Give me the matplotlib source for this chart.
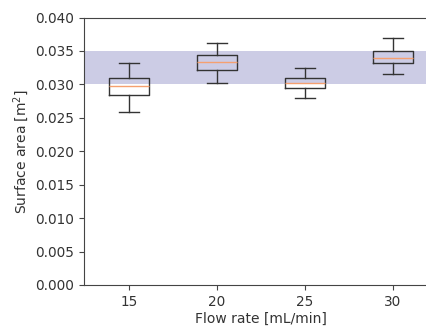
import numpy as np
import matplotlib
matplotlib.use('Agg')
import matplotlib.pyplot as plt

flow_rates = [15, 20, 25, 30]
whisker_low = [0.0259, 0.0302, 0.0280, 0.0316]
box_low = [0.0284, 0.0321, 0.0294, 0.0332]
medians = [0.0298, 0.0333, 0.0302, 0.0340]
box_high = [0.0310, 0.0344, 0.0310, 0.0350]
whisker_high = [0.0332, 0.0362, 0.0325, 0.0370]
band_low, band_high = 0.030, 0.035

stats = []
for i in range(len(flow_rates)):
    stats.append({'whislo': whisker_low[i], 'q1': box_low[i], 'med': medians[i],
                  'q3': box_high[i], 'whishi': whisker_high[i], 'fliers': []})

fig = plt.figure(figsize=(4.26, 3.29), dpi=100)
# axes run past the right edge, the reference is cropped there
ax = fig.add_axes([84 / 426, 1 - 285 / 329, 354 / 426, 267.5 / 329])

ax.axhspan(band_low, band_high, color='navy', alpha=0.2, lw=0)
ax.bxp(stats, positions=flow_rates, widths=2.25, showfliers=False,
       boxprops=dict(color='#333333', lw=1),
       whiskerprops=dict(color='#333333', lw=1),
       capprops=dict(color='#333333', lw=1),
       medianprops=dict(color='#f5a070', lw=1))

ax.set_xlim(12.44, 32.56)
ax.set_ylim(0, 0.040)
ax.set_xticks(flow_rates)
ax.set_xticklabels([str(f) for f in flow_rates])
ax.set_yticks(np.arange(0, 0.0401, 0.005))
ax.set_yticklabels([f'{v:.3f}' for v in np.arange(0, 0.0401, 0.005)])
for s in ax.spines.values():
    s.set_color('#444444')
ax.tick_params(colors='#444444', labelcolor='#333333', labelsize=9.8)
ax.set_xlabel('Flow rate [mL/min]', fontsize=10, color='#333333', labelpad=2)
ax.set_ylabel('Surface area [m$^2$]', fontsize=10, color='#333333', labelpad=3)

fig.savefig('out.png', dpi=100)
